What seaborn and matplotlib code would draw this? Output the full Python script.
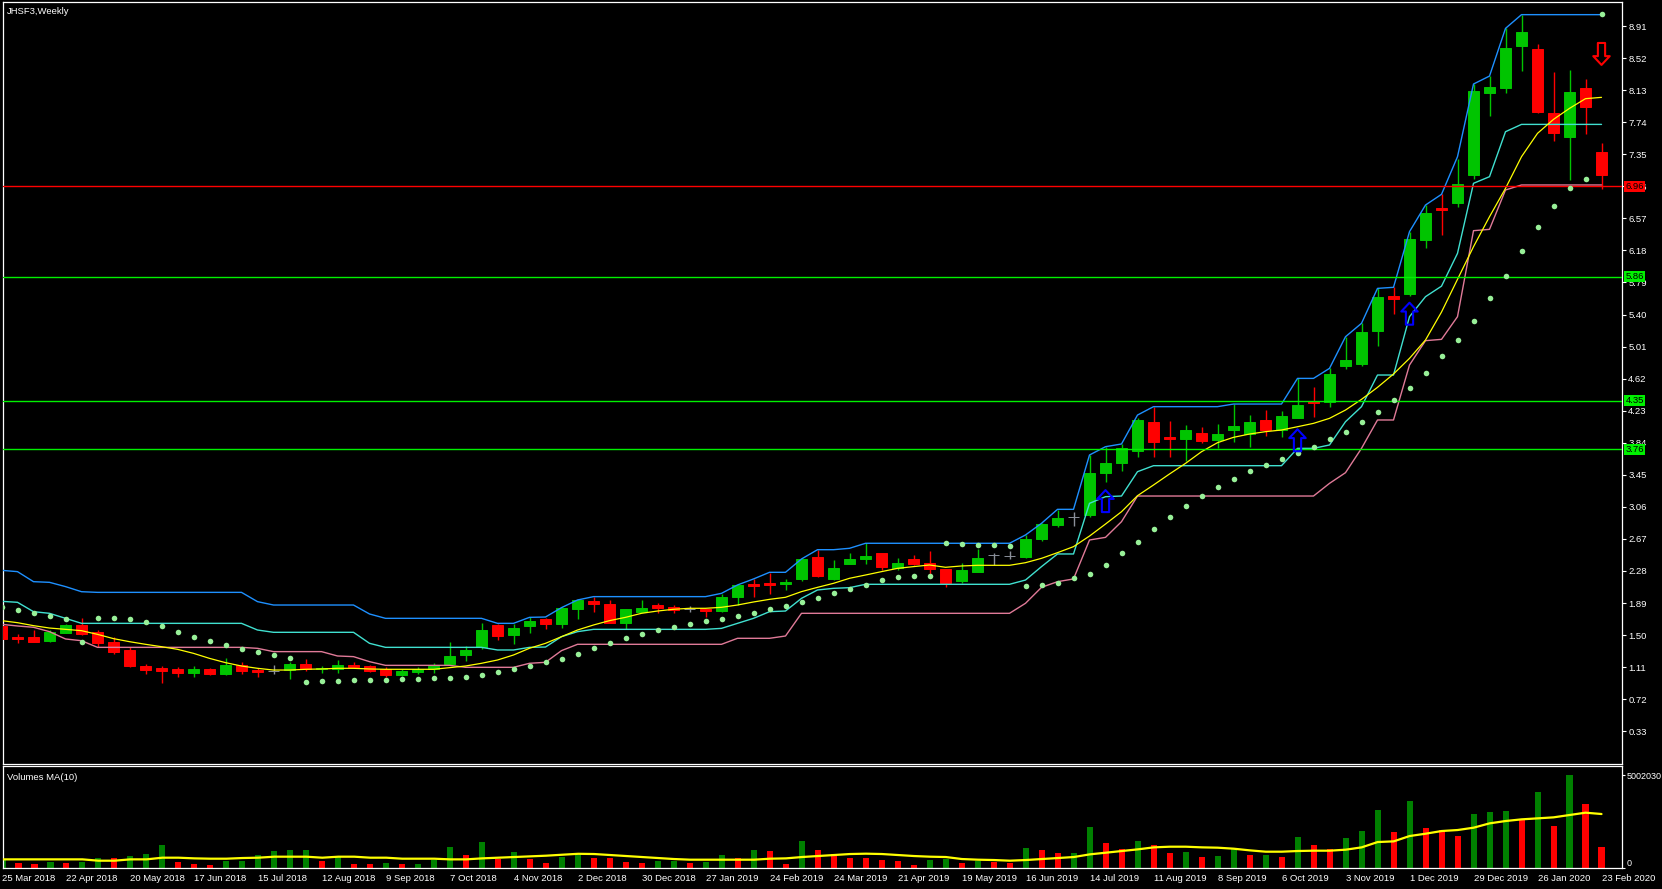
import numpy as np
import matplotlib
matplotlib.use("Agg")
import matplotlib.pyplot as plt
from matplotlib.path import Path
import seaborn as sns

# ---------------- data (weekly bars, 25 Mar 2018 .. 23 Feb 2020) ----------------
open_prices = [
    1.611, 1.473, 1.477, 1.432, 1.530, 1.623, 1.534, 1.416, 1.319, 1.128,
    1.100, 1.088, 1.035, 1.088, 1.027, 1.132, 1.075, 1.067, 1.075, 1.148,
    1.084, 1.088, 1.136, 1.120, 1.088, 1.015, 1.051, 1.084, 1.148, 1.258,
    1.351, 1.623, 1.501, 1.611, 1.696, 1.635, 1.818, 1.915, 1.878, 1.651,
    1.785, 1.866, 1.842, 1.818, 1.818, 1.797, 1.964, 2.118, 2.134, 2.126,
    2.183, 2.450, 2.183, 2.369, 2.430, 2.499, 2.321, 2.426, 2.377, 2.304,
    2.158, 2.268, 2.475, 2.462, 2.450, 2.669, 2.840, 2.937, 2.961, 3.468,
    3.597, 3.743, 4.088, 3.910, 3.886, 3.958, 3.873, 3.995, 3.946, 4.117,
    3.995, 4.145, 4.348, 4.340, 4.778, 4.798, 5.203, 5.629, 5.649, 6.306,
    6.696, 6.760, 7.100, 8.095, 8.160, 8.670, 8.630, 7.851, 7.563, 8.155,
    7.377]
high_prices = [
    1.623, 1.513, 1.562, 1.562, 1.635, 1.708, 1.562, 1.473, 1.359, 1.153,
    1.124, 1.112, 1.124, 1.104, 1.221, 1.173, 1.104, 1.132, 1.173, 1.209,
    1.124, 1.197, 1.173, 1.132, 1.116, 1.088, 1.116, 1.165, 1.416, 1.367,
    1.651, 1.635, 1.635, 1.716, 1.704, 1.846, 1.939, 1.968, 1.927, 1.820,
    1.927, 1.891, 1.866, 1.854, 1.820, 2.000, 2.110, 2.183, 2.256, 2.183,
    2.434, 2.539, 2.414, 2.499, 2.617, 2.500, 2.438, 2.475, 2.523, 2.310,
    2.377, 2.548, 2.499, 2.523, 2.718, 2.864, 3.022, 2.998, 3.691, 3.792,
    3.825, 4.137, 4.271, 4.105, 4.056, 4.027, 4.068, 4.311, 4.177, 4.238,
    4.226, 4.623, 4.518, 4.745, 5.130, 5.293, 5.718, 5.731, 6.408, 6.732,
    6.862, 7.288, 8.204, 8.301, 8.881, 9.048, 8.691, 8.350, 8.374, 8.265,
    7.482]
low_prices = [
    1.449, 1.408, 1.418, 1.416, 1.522, 1.501, 1.359, 1.274, 1.112, 1.031,
    0.921, 0.990, 0.994, 1.015, 1.015, 1.031, 0.990, 1.031, 0.966, 1.063,
    1.043, 1.039, 1.100, 1.051, 0.990, 1.007, 1.027, 1.043, 1.136, 1.189,
    1.327, 1.440, 1.392, 1.526, 1.580, 1.591, 1.696, 1.785, 1.643, 1.574,
    1.785, 1.773, 1.773, 1.781, 1.724, 1.785, 1.866, 1.964, 2.000, 2.049,
    2.162, 2.207, 2.175, 2.369, 2.365, 2.292, 2.292, 2.353, 2.243, 2.089,
    2.134, 2.268, 2.353, 2.426, 2.438, 2.645, 2.815, 2.827, 2.941, 3.366,
    3.500, 3.670, 3.662, 3.662, 3.622, 3.833, 3.772, 3.853, 3.792, 3.922,
    3.906, 4.145, 4.157, 4.279, 4.737, 4.778, 5.021, 5.406, 5.629, 6.213,
    6.367, 6.712, 7.048, 7.819, 8.099, 8.366, 7.851, 7.515, 7.040, 7.600,
    6.923]
close_prices = [
    1.457, 1.457, 1.420, 1.534, 1.623, 1.517, 1.408, 1.299, 1.124, 1.075,
    1.063, 1.039, 1.088, 1.031, 1.136, 1.063, 1.051, 1.067, 1.148, 1.088,
    1.096, 1.136, 1.112, 1.067, 1.015, 1.067, 1.084, 1.128, 1.250, 1.319,
    1.562, 1.489, 1.586, 1.672, 1.635, 1.830, 1.927, 1.883, 1.651, 1.818,
    1.830, 1.830, 1.810, 1.818, 1.797, 1.964, 2.110, 2.097, 2.114, 2.146,
    2.426, 2.219, 2.316, 2.426, 2.462, 2.329, 2.377, 2.365, 2.304, 2.134,
    2.292, 2.438, 2.475, 2.462, 2.669, 2.852, 2.925, 2.937, 3.468, 3.589,
    3.772, 4.117, 3.853, 3.886, 3.995, 3.865, 3.946, 4.046, 4.092, 3.995,
    4.165, 4.299, 4.319, 4.676, 4.843, 5.183, 5.609, 5.593, 6.318, 6.631,
    6.676, 6.987, 8.119, 8.164, 8.642, 8.837, 7.868, 7.612, 8.107, 7.928,
    7.101]

upper_band = [
    2.288, 2.272, 2.150, 2.142, 2.090, 2.028, 2.020, 2.020, 2.020, 2.020,
    2.020, 2.020, 2.020, 2.020, 2.020, 2.020, 1.907, 1.866, 1.866, 1.866,
    1.866, 1.866, 1.866, 1.757, 1.704, 1.704, 1.704, 1.704, 1.704, 1.704,
    1.704, 1.643, 1.643, 1.716, 1.720, 1.834, 1.927, 1.968, 1.968, 1.968,
    1.968, 1.968, 1.968, 1.968, 1.968, 2.008, 2.110, 2.183, 2.264, 2.264,
    2.426, 2.539, 2.539, 2.556, 2.617, 2.617, 2.617, 2.617, 2.617, 2.617,
    2.617, 2.617, 2.617, 2.617, 2.718, 2.860, 3.030, 3.030, 3.691, 3.792,
    3.825, 4.177, 4.279, 4.279, 4.279, 4.279, 4.279, 4.311, 4.311, 4.311,
    4.311, 4.623, 4.623, 4.745, 5.130, 5.293, 5.718, 5.731, 6.408, 6.732,
    6.862, 7.320, 8.204, 8.301, 8.881, 9.048, 9.048, 9.048, 9.048, 9.048,
    9.048]
middle_band = [
    1.911, 1.899, 1.785, 1.765, 1.704, 1.643, 1.643, 1.643, 1.643, 1.643,
    1.643, 1.643, 1.643, 1.643, 1.643, 1.643, 1.562, 1.534, 1.534, 1.534,
    1.534, 1.534, 1.534, 1.400, 1.351, 1.351, 1.351, 1.351, 1.351, 1.351,
    1.351, 1.319, 1.319, 1.351, 1.355, 1.481, 1.542, 1.570, 1.570, 1.570,
    1.570, 1.570, 1.570, 1.570, 1.570, 1.582, 1.643, 1.704, 1.785, 1.793,
    1.947, 2.049, 2.069, 2.077, 2.118, 2.118, 2.118, 2.118, 2.118, 2.118,
    2.118, 2.118, 2.118, 2.118, 2.170, 2.333, 2.487, 2.487, 3.103, 3.184,
    3.192, 3.488, 3.561, 3.561, 3.561, 3.561, 3.561, 3.561, 3.561, 3.561,
    3.561, 3.772, 3.772, 3.813, 4.096, 4.279, 4.664, 4.664, 5.374, 5.617,
    5.745, 6.144, 6.996, 7.077, 7.624, 7.713, 7.713, 7.713, 7.713, 7.713,
    7.713]
lower_band = [
    1.631, 1.611, 1.595, 1.542, 1.453, 1.432, 1.351, 1.351, 1.351, 1.351,
    1.351, 1.351, 1.351, 1.351, 1.351, 1.351, 1.339, 1.299, 1.299, 1.299,
    1.299, 1.246, 1.238, 1.177, 1.132, 1.132, 1.132, 1.132, 1.132, 1.108,
    1.108, 1.108, 1.108, 1.157, 1.169, 1.311, 1.388, 1.388, 1.388, 1.388,
    1.388, 1.388, 1.388, 1.388, 1.388, 1.388, 1.461, 1.461, 1.461, 1.489,
    1.765, 1.765, 1.765, 1.765, 1.765, 1.765, 1.765, 1.765, 1.765, 1.765,
    1.765, 1.765, 1.765, 1.765, 1.887, 2.081, 2.150, 2.183, 2.657, 2.689,
    2.880, 3.192, 3.192, 3.192, 3.192, 3.192, 3.192, 3.192, 3.192, 3.192,
    3.192, 3.192, 3.192, 3.346, 3.476, 3.772, 4.117, 4.117, 4.786, 5.082,
    5.098, 5.374, 6.420, 6.436, 6.915, 6.976, 6.976, 6.976, 6.976, 6.976,
    6.976]
moving_average = [
    1.676, 1.651, 1.615, 1.586, 1.570, 1.554, 1.509, 1.457, 1.420, 1.388,
    1.359, 1.327, 1.278, 1.217, 1.165, 1.124, 1.096, 1.075, 1.075, 1.084,
    1.088, 1.096, 1.096, 1.088, 1.084, 1.084, 1.084, 1.084, 1.104, 1.124,
    1.157, 1.197, 1.258, 1.340, 1.400, 1.481, 1.562, 1.623, 1.676, 1.716,
    1.765, 1.793, 1.814, 1.826, 1.826, 1.838, 1.866, 1.903, 1.935, 1.960,
    2.029, 2.081, 2.130, 2.191, 2.231, 2.272, 2.312, 2.333, 2.353, 2.325,
    2.341, 2.349, 2.349, 2.349, 2.381, 2.434, 2.503, 2.576, 2.705, 2.851,
    3.001, 3.196, 3.326, 3.460, 3.589, 3.731, 3.841, 3.906, 3.946, 3.975,
    3.995, 4.035, 4.076, 4.137, 4.238, 4.368, 4.514, 4.676, 4.867, 5.090,
    5.430, 5.828, 6.225, 6.590, 6.935, 7.320, 7.604, 7.774, 7.908, 8.026,
    8.042]
parabolic_sar = [
    1.838, 1.801, 1.765, 1.728, 1.692, 1.412, 1.704, 1.704, 1.692, 1.655,
    1.607, 1.534, 1.473, 1.424, 1.376, 1.327, 1.290, 1.254, 1.217, 0.925,
    0.938, 0.938, 0.950, 0.950, 0.950, 0.962, 0.962, 0.974, 0.974, 0.986,
    1.011, 1.047, 1.084, 1.120, 1.169, 1.205, 1.266, 1.339, 1.400, 1.461,
    1.510, 1.558, 1.595, 1.631, 1.668, 1.692, 1.728, 1.765, 1.814, 1.850,
    1.899, 1.947, 2.008, 2.057, 2.106, 2.166, 2.203, 2.215, 2.215, 2.617,
    2.604, 2.592, 2.592, 2.580, 2.093, 2.106, 2.130, 2.191, 2.239, 2.353,
    2.494, 2.628, 2.787, 2.933, 3.066, 3.192, 3.297, 3.395, 3.492, 3.565,
    3.638, 3.711, 3.792, 3.881, 3.967, 4.088, 4.210, 4.356, 4.502, 4.684,
    4.891, 5.086, 5.317, 5.597, 5.864, 6.168, 6.460, 6.716, 6.943, 7.044,
    9.052]

volume_millions = [
    0.414, 0.234, 0.198, 0.306, 0.234, 0.306, 0.540, 0.520, 0.630, 0.738,
    1.223, 0.306, 0.198, 0.144, 0.360, 0.378, 0.684, 0.900, 0.954, 0.972,
    0.360, 0.612, 0.198, 0.180, 0.252, 0.198, 0.216, 0.414, 1.115, 0.684,
    1.385, 0.486, 0.846, 0.486, 0.252, 0.594, 0.684, 0.522, 0.510, 0.306,
    0.252, 0.360, 0.378, 0.252, 0.306, 0.684, 0.522, 0.954, 0.900, 0.198,
    1.439, 0.954, 0.738, 0.522, 0.504, 0.414, 0.360, 0.144, 0.414, 0.468,
    0.252, 0.360, 0.306, 0.252, 1.062, 0.954, 0.792, 0.810, 2.195, 1.331,
    0.990, 1.439, 1.223, 0.792, 0.846, 0.576, 0.630, 1.062, 0.684, 0.702,
    0.576, 1.655, 1.223, 1.008, 1.601, 1.979, 3.113, 1.943, 3.598, 2.141,
    2.033, 1.709, 2.897, 3.005, 3.059, 2.573, 4.084, 2.249, 5.002, 3.436,
    1.115]
volume_ma10 = [
    0.450, 0.450, 0.450, 0.450, 0.450, 0.450, 0.378, 0.378, 0.450, 0.450,
    0.540, 0.540, 0.504, 0.486, 0.486, 0.522, 0.540, 0.594, 0.594, 0.594,
    0.540, 0.594, 0.594, 0.540, 0.540, 0.486, 0.486, 0.486, 0.450, 0.450,
    0.504, 0.540, 0.576, 0.612, 0.648, 0.700, 0.750, 0.738, 0.684, 0.630,
    0.576, 0.522, 0.468, 0.432, 0.432, 0.432, 0.432, 0.432, 0.486, 0.504,
    0.576, 0.630, 0.684, 0.738, 0.756, 0.738, 0.684, 0.630, 0.594, 0.576,
    0.468, 0.432, 0.414, 0.378, 0.414, 0.468, 0.522, 0.576, 0.720, 0.810,
    0.900, 0.990, 1.098, 1.133, 1.133, 1.098, 1.080, 1.026, 0.936, 0.864,
    0.864, 0.900, 0.918, 0.918, 0.972, 1.098, 1.385, 1.421, 1.709, 1.835,
    1.979, 2.033, 2.159, 2.393, 2.519, 2.609, 2.663, 2.717, 2.843, 2.969,
    2.897]

level_values = [6.96, 5.86, 4.35, 3.76]
level_colors = ["#FF0000", "#00F000", "#00F000", "#00F000"]

up_arrow_bars = [69, 81, 88]
up_arrow_prices = [3.13, 3.87, 5.41]
down_arrow_bars = [100]
down_arrow_prices = [8.57]

price_ticks = [8.91, 8.52, 8.13, 7.74, 7.35, 6.96, 6.57, 6.18, 5.79, 5.40, 5.01,
               4.62, 4.23, 3.84, 3.45, 3.06, 2.67, 2.28, 1.89, 1.50, 1.11, 0.72, 0.33]
volume_max = 5.002030
volume_tick_labels = ["0", "5002030"]
date_tick_bars = list(range(0, 101, 4))
date_tick_labels = [
    "25 Mar 2018", "22 Apr 2018", "20 May 2018", "17 Jun 2018", "15 Jul 2018",
    "12 Aug 2018", "9 Sep 2018", "7 Oct 2018", "4 Nov 2018", "2 Dec 2018",
    "30 Dec 2018", "27 Jan 2019", "24 Feb 2019", "24 Mar 2019", "21 Apr 2019",
    "19 May 2019", "16 Jun 2019", "14 Jul 2019", "11 Aug 2019", "8 Sep 2019",
    "6 Oct 2019", "3 Nov 2019", "1 Dec 2019", "29 Dec 2019", "26 Jan 2020",
    "23 Feb 2020"]
title_text = "JHSF3,Weekly"
volume_title = "Volumes MA(10)"

# ---------------- style ----------------
sns.set_theme(style="dark")
plt.rcParams["font.family"] = ["Liberation Sans", "DejaVu Sans"]
FS = 6.8
WHITE = "white"

W_PX, H_PX = 1662, 889
fig = plt.figure(figsize=(W_PX / 100, H_PX / 100), dpi=100, facecolor="black")

def box(x0, y0, x1, y1):
    return [x0 / W_PX, 1 - y1 / H_PX, (x1 - x0) / W_PX, (y1 - y0) / H_PX]

ax = fig.add_axes(box(2.5, 2.3, 1622, 763.5), facecolor="black")
axv = fig.add_axes(box(2.5, 766, 1622, 867.7), facecolor="black")

bars = np.arange(len(close_prices))
o = np.array(open_prices); c = np.array(close_prices)
h = np.array(high_prices); l = np.array(low_prices)

GREEN_C = "#00C400"
RED_C = "#FF0000"
GRAY_C = "#8A8F99"
cand_colors = [GREEN_C if cc > oo else (RED_C if cc < oo else GRAY_C) for oo, cc in zip(o, c)]

# wicks and bodies
ax.vlines(bars, l, h, colors=cand_colors, linewidth=1.0, zorder=2)
ax.bar(bars, np.abs(c - o), bottom=np.minimum(o, c), width=0.68,
       color=cand_colors, edgecolor=cand_colors, linewidth=0.7, zorder=3)

# indicator lines
sns.lineplot(x=bars, y=upper_band, ax=ax, color="#1E90FF", linewidth=1.0, zorder=4)
sns.lineplot(x=bars, y=middle_band, ax=ax, color="#40E0D0", linewidth=1.0, zorder=4)
sns.lineplot(x=bars, y=lower_band, ax=ax, color="#E07A98", linewidth=1.0, zorder=4)
sns.lineplot(x=bars, y=moving_average, ax=ax, color="#FFFF00", linewidth=0.9, zorder=4)

# horizontal levels
for lv, col in zip(level_values, level_colors):
    ax.axhline(lv, color=col, linewidth=1.0, zorder=5)

# parabolic SAR dots
sns.scatterplot(x=bars, y=parabolic_sar, ax=ax, color="#98F098", s=16,
                linewidth=0, zorder=6, legend=False)

# arrows
up_path = Path([(0, 1), (0.75, 0.2), (0.33, 0.2), (0.33, -1), (-0.33, -1),
                (-0.33, 0.2), (-0.75, 0.2), (0, 1)],
               [Path.MOVETO] + [Path.LINETO] * 6 + [Path.CLOSEPOLY])
down_path = Path(up_path.vertices * np.array([1, -1]), up_path.codes)
ax.scatter(up_arrow_bars, up_arrow_prices, marker=up_path, s=250,
           facecolors="none", edgecolors="#0000FF", linewidths=1.5, zorder=7)
ax.scatter(down_arrow_bars, down_arrow_prices, marker=down_path, s=250,
           facecolors="none", edgecolors="#FF0000", linewidths=1.5, zorder=7)

ax.set_xlim((2.5 - 1.5) / 16, (1622 - 1.5) / 16)
ax.set_ylim(8.91 - (763.5 - 26) / 82.2, 8.91 + (26 - 2.3) / 82.2)
ax.set_xticks([])
ax.yaxis.tick_right()
ax.set_yticks(price_ticks)
ax.set_yticklabels([f"{t:.2f}" for t in price_ticks])
ax.tick_params(axis="y", direction="out", length=3, width=0.8, colors=WHITE,
               labelsize=FS, pad=1.5)
ax.set_xlabel(""); ax.set_ylabel("")
ax.grid(False)
for sp in ax.spines.values():
    sp.set_color(WHITE); sp.set_linewidth(0.9); sp.set_visible(True)

# level labels on the axis (drawn over the tick labels, as in the terminal)
for lv, col in zip(level_values, level_colors):
    ax.annotate(f"{lv:.2f}", xy=(1.0, lv), xycoords=("axes fraction", "data"),
                xytext=(2.5, 0), textcoords="offset points", ha="left", va="center",
                fontsize=FS, color="black", zorder=10, annotation_clip=False,
                bbox=dict(boxstyle="square,pad=0.12", fc=col, ec="none"))

ax.text(0.003, 0.9935, title_text, transform=ax.transAxes, color=WHITE,
        fontsize=FS, ha="left", va="top")

# ---------------- volume panel ----------------
v = np.array(volume_millions)
vol_colors = ["#008000"] + ["#008000" if v[i] > v[i - 1] else "#FF0000" for i in range(1, len(v))]
axv.bar(bars, v, width=0.38, color=vol_colors, linewidth=0, zorder=2)
sns.lineplot(x=bars, y=volume_ma10, ax=axv, color="#FFFF00", linewidth=1.6, zorder=3)
axv.set_xlim((2.5 - 1.5) / 16, (1622 - 1.5) / 16)
axv.set_ylim(0, 101.7 / 18.53)
axv.yaxis.tick_right()
axv.set_yticks([0, volume_max])
axv.set_yticklabels(volume_tick_labels)
axv.tick_params(axis="y", direction="out", length=2.5, width=0.8, colors=WHITE,
                labelsize=6.5, pad=0.8)
lbls = axv.get_yticklabels()
lbls[0].set_verticalalignment("bottom")
axv.set_xticks(date_tick_bars)
axv.set_xticklabels(date_tick_labels, ha="left")
axv.tick_params(axis="x", direction="out", length=3.5, width=0.8, colors=WHITE,
                labelsize=FS, pad=1)
axv.set_xlabel(""); axv.set_ylabel("")
axv.grid(False)
for sp in axv.spines.values():
    sp.set_color(WHITE); sp.set_linewidth(0.9); sp.set_visible(True)
axv.text(0.0025, 0.93, volume_title, transform=axv.transAxes, color=WHITE,
         fontsize=FS, ha="left", va="top")

fig.savefig("out.png", dpi=100, facecolor="black")
